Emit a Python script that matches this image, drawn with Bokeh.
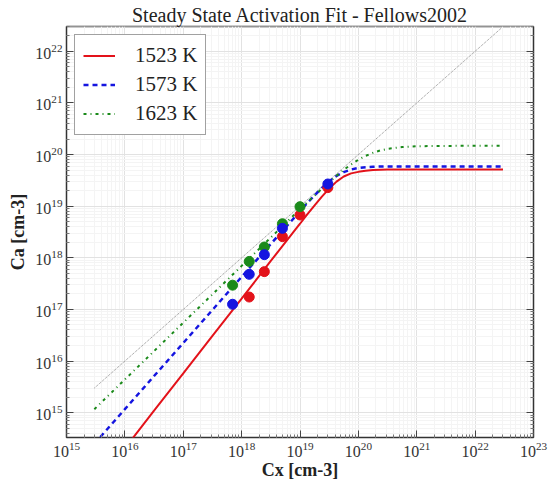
from bokeh.plotting import figure
from bokeh.models import (Range1d, FixedTicker, CustomJSTickFormatter, LogAxis,
                          LogTickFormatter, Legend, LegendItem)
from bokeh.embed import file_html
from bokeh.resources import INLINE

# ---------------- data ----------------
title = "Steady State Activation Fit - Fellows2002"
x_label = "Cx [cm-3]"
y_label = "Ca [cm-3]"
series_labels = ["1523 K", "1573 K", "1623 K"]

x_tick_values = [1e15, 1e16, 1e17, 1e18, 1e19, 1e20, 1e21, 1e22, 1e23]
y_tick_values = [1e15, 1e16, 1e17, 1e18, 1e19, 1e20, 1e21, 1e22]

# fitted curves
cx_fit = [3.0e15, 1.0e16, 3.16e16, 1.0e17, 3.16e17, 1.0e18, 3.16e18, 1.0e19,
          1.33e19, 1.78e19, 2.37e19, 3.16e19, 4.22e19, 5.62e19, 7.5e19, 1.0e20,
          1.33e20, 1.78e20, 2.37e20, 3.16e20, 5.62e20, 1.0e21, 3.16e21, 1.0e22, 3.0e22]
ca_fit_1523 = [3.55e13, 2.04e14, 1.10e15, 5.75e15, 3.09e16, 1.62e17, 8.71e17, 4.57e18,
               6.92e18, 1.04e19, 1.53e19, 2.19e19, 2.99e19, 3.76e19, 4.32e19, 4.62e19,
               4.84e19, 5.01e19, 5.07e19, 5.13e19, 5.13e19, 5.13e19, 5.13e19, 5.13e19, 5.13e19]
ca_fit_1573 = [2.51e14, 1.17e15, 5.13e15, 2.24e16, 9.77e16, 4.27e17, 1.86e18, 7.94e18,
               1.15e19, 1.62e19, 2.26e19, 3.02e19, 3.85e19, 4.57e19, 5.13e19, 5.50e19,
               5.69e19, 5.79e19, 5.85e19, 5.89e19, 5.89e19, 5.89e19, 5.89e19, 5.89e19, 5.89e19]
ca_fit_1623 = [1.17e15, 4.40e15, 1.56e16, 5.53e16, 1.96e17, 6.97e17, 2.47e18, 8.77e18,
               1.19e19, 1.61e19, 2.18e19, 2.92e19, 3.87e19, 5.06e19, 6.43e19, 7.93e19,
               9.42e19, 1.08e20, 1.20e20, 1.29e20, 1.40e20, 1.45e20, 1.47e20, 1.48e20, 1.48e20]

# reference line Ca = Cx
ref_cx = [3.0e15, 2.8e22]
ref_ca = [3.0e15, 2.8e22]

# measured points
cx_1523 = [1.35e18, 2.45e18, 5.0e18, 1.0e19, 3.0e19]
ca_1523 = [1.74e17, 5.4e17, 2.57e18, 6.76e18, 2.29e19]
cx_1573 = [7.0e17, 1.35e18, 2.45e18, 5.0e18, 3.0e19]
ca_1573 = [1.26e17, 4.79e17, 1.15e18, 3.72e18, 2.69e19]
cx_1623 = [7.0e17, 1.35e18, 2.45e18, 5.0e18, 1.0e19]
ca_1623 = [2.95e17, 8.51e17, 1.62e18, 4.57e18, 9.77e18]

# ---------------- figure ----------------
FONT = "Liberation Serif"
RED, BLUE, GREEN = "#e3121a", "#1515e0", "#1a8a1a"

p = figure(width=549, height=482, x_axis_type="log", y_axis_type="log",
           x_range=Range1d(1e15, 1e23), y_range=Range1d(3.31e14, 3.02e22),
           output_backend="svg", toolbar_location=None,
           min_border_left=66, min_border_right=16, min_border_top=26,
           min_border_bottom=45)

p.title.text = title
p.title.align = "center"
p.title.text_font = FONT
p.title.text_font_size = "20px"
p.title.text_font_style = "normal"
p.title.text_color = "#222222"
p.title.standoff = 2

p.outline_line_color = "#333333"
p.outline_line_width = 1.5
p.background_fill_color = "white"
p.border_fill_color = "white"

empty_code = 'return "";'

minor_vals = [m * 10.0 ** e for e in range(14, 24) for m in range(2, 10)]
xt = FixedTicker(ticks=x_tick_values, minor_ticks=minor_vals)
yt = FixedTicker(ticks=y_tick_values, minor_ticks=minor_vals)


def style_axis(ax, ticker, labels=True):
    ax.ticker = ticker
    ax.axis_line_color = None
    ax.major_tick_in = 7
    ax.major_tick_out = 0
    ax.minor_tick_in = 3
    ax.minor_tick_out = 0
    ax.major_tick_line_color = "#444444"
    ax.minor_tick_line_color = "#777777"
    if labels:
        ax.formatter = LogTickFormatter()
        ax.major_label_text_font = FONT
        ax.major_label_text_font_size = "16px"
        ax.major_label_text_color = "#333333"
        ax.major_label_standoff = 4
        ax.axis_label_text_font = FONT
        ax.axis_label_text_font_size = "18px"
        ax.axis_label_text_font_style = "bold"
        ax.axis_label_text_color = "#222222"
    else:
        ax.formatter = CustomJSTickFormatter(code=empty_code)
        ax.major_label_text_font_size = "0px"
        ax.major_label_standoff = 0


style_axis(p.xaxis[0], xt)
style_axis(p.yaxis[0], yt)
p.xaxis[0].axis_label = x_label
p.yaxis[0].axis_label = y_label
p.xaxis[0].axis_label_standoff = 0
p.yaxis[0].axis_label_standoff = 4

ax_r = LogAxis()
style_axis(ax_r, yt, labels=False)
p.add_layout(ax_r, "right")

for g in (p.xgrid[0], p.ygrid[0]):
    g.grid_line_color = "#e2e2e2"
    g.grid_line_width = 1
    g.minor_grid_line_color = "#f4f4f4"
    g.minor_grid_line_width = 1

# reference line
p.line(ref_cx, ref_ca, line_color="#8a8a8a", line_width=1, line_dash="1 1")

# fit curves
r1 = p.line(cx_fit, ca_fit_1523, line_color=RED, line_width=2)
r2 = p.line(cx_fit, ca_fit_1573, line_color=BLUE, line_width=2.5, line_dash="5 4")
r3 = p.line(cx_fit, ca_fit_1623, line_color=GREEN, line_width=2, line_dash="3 4 1 4")

# data points
p.scatter(cx_1523, ca_1523, size=10, fill_color=RED, line_color=RED)
p.scatter(cx_1623, ca_1623, size=10, fill_color=GREEN, line_color=GREEN)
p.scatter(cx_1573, ca_1573, size=10, fill_color=BLUE, line_color=BLUE)

legend = Legend(items=[LegendItem(label=series_labels[0], renderers=[r1]),
                       LegendItem(label=series_labels[1], renderers=[r2]),
                       LegendItem(label=series_labels[2], renderers=[r3])],
                location="top_left",
                label_text_font=FONT, label_text_font_size="21px",
                label_text_color="#222222",
                glyph_width=32, glyph_height=25, label_height=25,
                label_standoff=20, padding=8, spacing=4, margin=8,
                border_line_color="#444444", border_line_width=1.5,
                background_fill_color="white", background_fill_alpha=1.0)
p.add_layout(legend)

open("out.html", "w").write(file_html(p, INLINE))
